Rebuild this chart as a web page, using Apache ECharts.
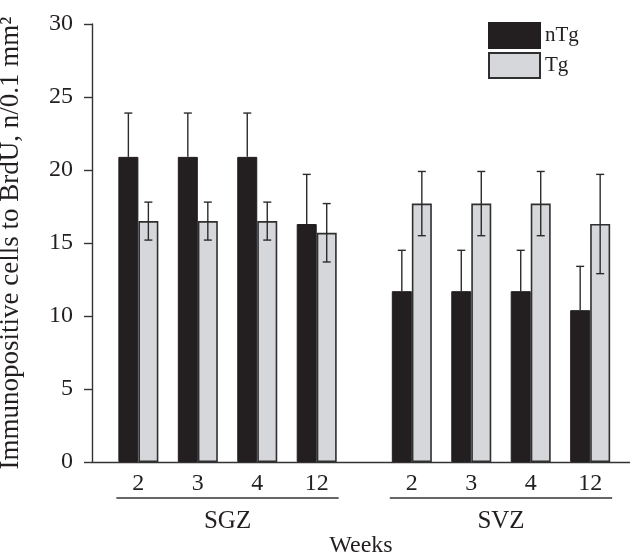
<!DOCTYPE html>
<html>
<head>
<meta charset="utf-8">
<script src="https://cdn.jsdelivr.net/npm/echarts@6.0.0/dist/echarts.min.js"></script>
<style>
html,body{margin:0;padding:0;background:#fff;}
#chart{width:630px;height:558px;}
</style>
</head>
<body>
<div id="chart"></div>
<script>
// ---- data ----
const groups = ['SGZ', 'SVZ'];
const groupStart = [0, 4.6];
const groupEnd = [3, 7.6];
const weekLabels = ['2', '3', '4', '12', '2', '3', '4', '12'];
const xPos = [0, 1, 2, 3, 4.6, 5.6, 6.6, 7.6];
const nTg = [20.9, 20.9, 20.9, 16.3, 11.7, 11.7, 11.7, 10.4];
const nTgErr = [3.0, 3.0, 3.0, 3.4, 2.8, 2.8, 2.8, 3.0];
const Tg = [16.5, 16.5, 16.5, 15.7, 17.7, 17.7, 17.7, 16.3];
const TgErr = [1.3, 1.3, 1.3, 2.0, 2.2, 2.2, 2.2, 3.4];
const yTicks = [0, 5, 10, 15, 20, 25, 30];

const FONT = "'Liberation Serif'";
const INK = '#231f20';
const BAR_W = 20;

function errSeries(name, vals, errs, side, showLower) {
  return {
    type: 'custom',
    name: name + ' err',
    silent: true,
    z: 5,
    encode: { x: 0, y: [1] },
    data: xPos.map((x, i) => [x, vals[i], errs[i]]),
    renderItem: function (params, api) {
      const x = api.value(0), v = api.value(1), e = api.value(2);
      const top = api.coord([x, v + e]);
      const mid = api.coord([x, v]);
      const bot = api.coord([x, v - e]);
      const px = top[0] + side * BAR_W / 2;
      const cap = 4;
      const st = { stroke: '#2b2b2b', lineWidth: 1.4 };
      const yLow = showLower ? bot[1] : mid[1];
      const children = [
        { type: 'line', shape: { x1: px, y1: top[1], x2: px, y2: yLow }, style: st },
        { type: 'line', shape: { x1: px - cap, y1: top[1], x2: px + cap, y2: top[1] }, style: st }
      ];
      if (showLower) {
        children.push({ type: 'line', shape: { x1: px - cap, y1: bot[1], x2: px + cap, y2: bot[1] }, style: st });
      }
      return { type: 'group', children: children };
    }
  };
}

const chart = echarts.init(document.getElementById('chart'));
chart.setOption({
  animation: false,
  textStyle: { fontFamily: FONT },
  grid: { left: 92, right: 0, top: 24, bottom: 96, containLabel: false, outerBoundsMode: 'none' },
  legend: {
    orient: 'vertical',
    left: 483,
    top: 17,
    icon: 'rect',
    itemWidth: 51,
    itemHeight: 25,
    itemGap: 3,
    itemTextGap: 15,
    data: ['nTg', 'Tg'],
    textStyle: { fontFamily: FONT, fontSize: 21, color: INK }
  },
  xAxis: {
    type: 'value',
    min: -0.78,
    max: 8.27,
    splitLine: { show: false },
    axisLine: { show: true, onZero: false, lineStyle: { color: '#333', width: 1.4 } },
    axisTick: { show: false },
    axisLabel: {
      customValues: xPos,
      margin: 10,
      fontFamily: FONT,
      fontSize: 24,
      color: INK,
      formatter: function (v) {
        const i = xPos.findIndex(p => Math.abs(p - v) < 1e-6);
        return i >= 0 ? weekLabels[i] : '';
      }
    },
    name: 'Weeks',
    nameLocation: 'middle',
    nameGap: 72,
    nameTextStyle: { fontFamily: FONT, fontSize: 24, color: INK }
  },
  yAxis: {
    type: 'value',
    min: 0,
    max: 30,
    interval: 5,
    splitLine: { show: false },
    axisLine: { show: true, onZero: false, lineStyle: { color: '#333', width: 1.4 } },
    axisTick: { show: true, inside: false, length: 8, lineStyle: { color: '#333', width: 1.4 } },
    axisLabel: {
      margin: 19,
      fontFamily: FONT,
      fontSize: 24,
      color: INK,
      formatter: function (v) { return yTicks.indexOf(v) >= 0 ? String(v) : ''; }
    },
    name: 'Immunopositive cells to BrdU, n/0.1 mm\u00B2',
    nameLocation: 'middle',
    nameGap: 68,
    nameTextStyle: { fontFamily: FONT, fontSize: 27, color: INK }
  },
  series: [
    {
      type: 'bar',
      name: 'nTg',
      barWidth: BAR_W,
      barGap: '0%',
      data: xPos.map((x, i) => [x, nTg[i]]),
      itemStyle: { color: INK, borderColor: INK, borderWidth: 1 }
    },
    {
      type: 'bar',
      name: 'Tg',
      barWidth: BAR_W,
      barGap: '0%',
      data: xPos.map((x, i) => [x, Tg[i]]),
      itemStyle: { color: '#d5d7da', borderColor: '#2f2f2f', borderWidth: 1.6 }
    },
    errSeries('nTg', nTg, nTgErr, -1, false),
    errSeries('Tg', Tg, TgErr, 1, true),
    {
      type: 'custom',
      name: 'groups',
      silent: true,
      clip: false,
      encode: { x: [0, 1], y: 2 },
      data: groups.map((g, i) => [groupStart[i], groupEnd[i], 0, i]),
      renderItem: function (params, api) {
        const a = api.coord([api.value(0), 0]);
        const b = api.coord([api.value(1), 0]);
        const yLine = a[1] + 36;
        const x1 = a[0] - BAR_W - 2, x2 = b[0] + BAR_W + 2;
        return {
          type: 'group',
          children: [
            { type: 'line', shape: { x1: x1, y1: yLine, x2: x2, y2: yLine }, style: { stroke: '#333', lineWidth: 1.4 } },
            { type: 'text', style: { text: groups[api.value(3)], x: (x1 + x2) / 2, y: yLine + 23, align: 'center', verticalAlign: 'middle', fontFamily: FONT, fontSize: 25, fill: INK } }
          ]
        };
      }
    }
  ]
});
</script>
</body>
</html>
